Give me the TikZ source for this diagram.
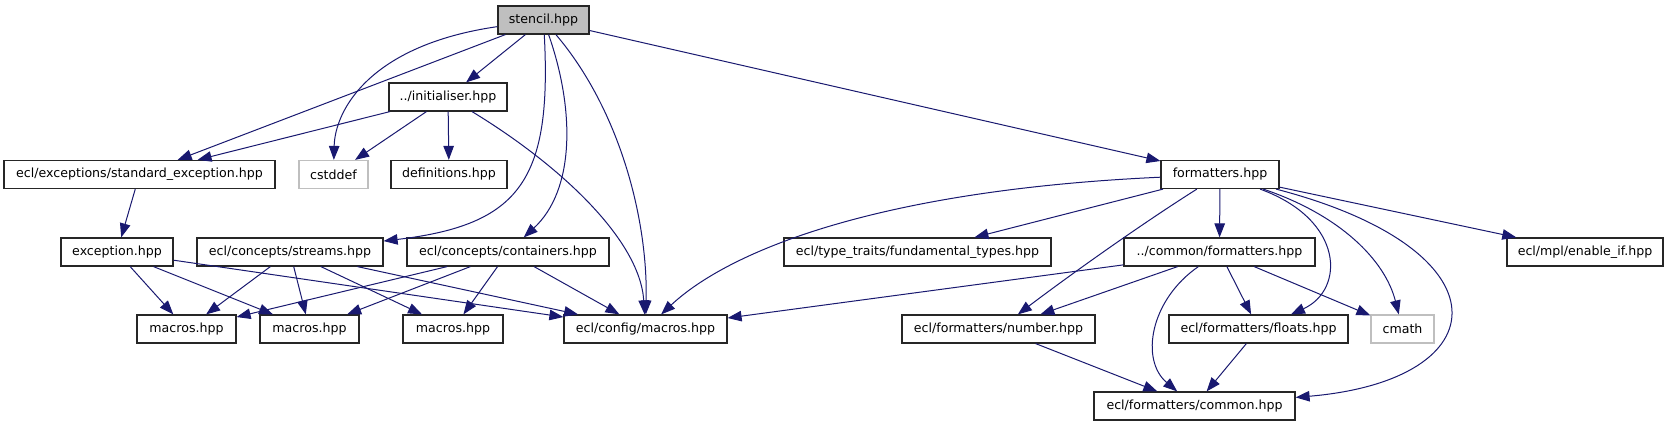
\documentclass[tikz,border=0pt]{standalone}
\usepackage{fontspec}
\setmainfont{DejaVu Sans}
\usepackage{xcolor}
\definecolor{Midnight}{HTML}{191970}
\definecolor{Grey}{HTML}{BFBFBF}
\colorlet{edgeblue}{Midnight}
\colorlet{greyx}{Grey}
\usepackage{tikz}
\usetikzlibrary{arrows.meta}

\begin{document}
\begin{tikzpicture}[x=1pt,y=-1pt,every node/.style={font=\fontsize{12.6}{14}\selectfont,inner sep=0pt,minimum height=28pt},
  file/.style={draw=black!85,line width=1.2pt,fill=white},sysfile/.style={draw=greyx,line width=1.2pt,fill=white},
  inc/.style={draw=edgeblue,line width=1pt,-{Triangle[length=14pt,width=10.5pt]}}]
\fill[white] (0,0) rectangle (1668,427);
\useasboundingbox (0,0) rectangle (1668,427);
\node[file,fill=greyx,minimum width=91pt] (stencil) at (543.5,20) {stencil.hpp};
\node[file,minimum width=118pt] (init) at (448,97) {../initialiser.hpp};
\node[file,minimum width=271pt] (stdexc) at (139.5,174.5) {ecl/exceptions/standard\_exception.hpp};
\node[sysfile,minimum width=69pt] (cstddef) at (333.5,174.5) {cstddef};
\node[file,minimum width=116pt] (defs) at (449,174.5) {definitions.hpp};
\node[file,minimum width=118pt] (formatters) at (1220,174.5) {formatters.hpp};
\node[file,minimum width=112pt] (exception) at (117,252) {exception.hpp};
\node[file,minimum width=186pt] (streams) at (290,252) {ecl/concepts/streams.hpp};
\node[file,minimum width=202pt] (containers) at (508,252) {ecl/concepts/containers.hpp};
\node[file,minimum width=267pt] (typetraits) at (917.5,252) {ecl/type\_traits/fundamental\_types.hpp};
\node[file,minimum width=191pt] (commonfmt) at (1219.5,252) {../common/formatters.hpp};
\node[file,minimum width=156pt] (enableif) at (1585,252) {ecl/mpl/enable\_if.hpp};
\node[file,minimum width=99pt] (macrosA) at (186.5,329) {macros.hpp};
\node[file,minimum width=99pt] (macrosB) at (309.5,329) {macros.hpp};
\node[file,minimum width=100pt] (macrosC) at (453,329) {macros.hpp};
\node[file,minimum width=163pt] (config) at (645.5,329) {ecl/config/macros.hpp};
\node[file,minimum width=193pt] (number) at (998.5,329) {ecl/formatters/number.hpp};
\node[file,minimum width=179pt] (floats) at (1258.5,329) {ecl/formatters/floats.hpp};
\node[sysfile,minimum width=63pt] (cmath) at (1402.5,329) {cmath};
\node[file,minimum width=201pt] (common) at (1194.5,406) {ecl/formatters/common.hpp};
\draw[inc] (stencil) -- (init);\draw[inc] (stencil) -- (stdexc);
\draw[inc] (stencil) .. controls (370,45) and (335,110) .. (cstddef);
\draw[inc] (stencil) .. controls (552,180) and (520,225) .. (streams);
\draw[inc] (stencil) .. controls (575,110) and (575,190) .. (containers);
\draw[inc] (stencil) .. controls (620,110) and (648,220) .. (config);
\draw[inc] (stencil) -- (formatters);
\draw[inc] (init) -- (stdexc);\draw[inc] (init) -- (cstddef);\draw[inc] (init) -- (defs);
\draw[inc] (init) .. controls (560,165) and (640,240) .. (config);
\draw[inc] (stdexc) -- (exception);
\draw[inc] (exception) -- (macrosA);\draw[inc] (exception) -- (macrosB);\draw[inc] (exception) -- (config);
\draw[inc] (streams) -- (macrosA);\draw[inc] (streams) -- (macrosB);\draw[inc] (streams) -- (macrosC);\draw[inc] (streams) -- (config);
\draw[inc] (containers) -- (macrosA);\draw[inc] (containers) -- (macrosB);\draw[inc] (containers) -- (macrosC);\draw[inc] (containers) -- (config);
\draw[inc] (formatters) .. controls (880,190) and (730,250) .. (config);
\draw[inc] (formatters) -- (typetraits);
\draw[inc] (formatters) .. controls (1140,225) and (1070,275) .. (number);
\draw[inc] (formatters) -- (commonfmt);
\draw[inc] (formatters) .. controls (1345,220) and (1345,290) .. (floats);
\draw[inc] (formatters) .. controls (1340,215) and (1385,260) .. (cmath);
\draw[inc] (formatters) .. controls (1510,250) and (1500,380) .. (common);
\draw[inc] (formatters) -- (enableif);
\draw[inc] (commonfmt) -- (config);\draw[inc] (commonfmt) -- (number);
\draw[inc] (commonfmt) .. controls (1150,300) and (1140,360) .. (common);
\draw[inc] (commonfmt) -- (floats);\draw[inc] (commonfmt) -- (cmath);
\draw[inc] (number) -- (common);\draw[inc] (floats) -- (common);
\end{tikzpicture}
\end{document}
